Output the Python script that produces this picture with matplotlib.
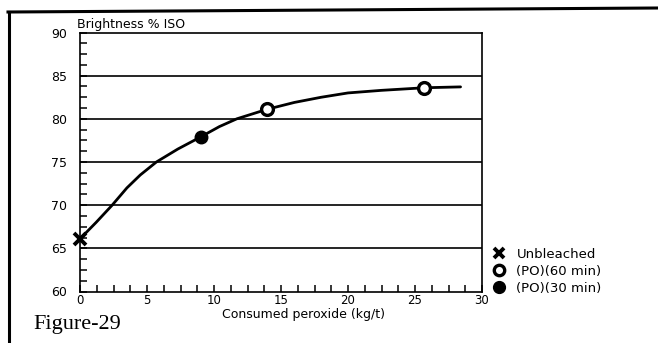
import matplotlib
matplotlib.use("Agg")
import matplotlib.pyplot as plt
from matplotlib.lines import Line2D
import numpy as np

# ---- data ----
curve_x = [0, 1.2, 2.4, 3.5, 4.5, 5.7, 7.3, 9.0, 10.4, 11.7, 13.95, 16.0, 18.0, 20.0, 22.5, 25.7, 28.4]
curve_y = [66.1, 68.0, 70.0, 72.0, 73.5, 75.0, 76.5, 77.9, 79.1, 80.0, 81.1, 81.9, 82.5, 83.0, 83.3, 83.6, 83.7]

unbleached_x = [0]
unbleached_y = [66.1]
po60_x = [13.95, 25.7]
po60_y = [81.1, 83.6]
po30_x = [9.0]
po30_y = [77.9]

x_ticks = [0, 5, 10, 15, 20, 25, 30]
y_ticks = [60, 65, 70, 75, 80, 85, 90]
legend_labels = ["Unbleached", "(PO)(60 min)", "(PO)(30 min)"]

W, H = 658, 343
fig = plt.figure(figsize=(W / 100, H / 100), dpi=100)
fig.patch.set_facecolor("white")

ax = fig.add_axes([80 / W, 1 - 291.5 / H, (482 - 80) / W, (291.5 - 32.5) / H])
ax.set_xlim(0, 30)
ax.set_ylim(60, 90)

for v in y_ticks[1:-1]:
    ax.axhline(v, color="black", lw=1.2, zorder=1)

ax.plot(curve_x, curve_y, color="black", lw=2.0, zorder=2, solid_capstyle="round")
ax.plot(unbleached_x, unbleached_y, linestyle="none", marker="x", ms=8, mew=2.8,
        color="black", zorder=3, clip_on=False)
ax.plot(po60_x, po60_y, linestyle="none", marker="o", ms=8.5, mew=2.4,
        mfc="white", mec="black", zorder=3)
ax.plot(po30_x, po30_y, linestyle="none", marker="o", ms=9, color="black", zorder=3)

ax.set_xticks(x_ticks)
ax.set_yticks(y_ticks)
ax.set_xticks(np.arange(0, 30.01, 1.25), minor=True)
ax.set_yticks(np.arange(60, 90.01, 1.25), minor=True)
ax.tick_params(which="both", direction="in", color="black", width=1.1, length=5)
ax.tick_params(axis="y", which="major", pad=9, labelsize=9)
ax.tick_params(axis="x", which="major", pad=1.5, labelsize=8.5)
ax.tick_params(axis="x", which="both", top=False)
ax.tick_params(axis="y", which="both", right=False)
for s in ax.spines.values():
    s.set_color("black")
    s.set_linewidth(1.2)

fig.text(77 / W, 1 - 24.5 / H, "Brightness % ISO", fontsize=9, ha="left", va="center")
fig.text(303 / W, 1 - 314.5 / H, "Consumed peroxide (kg/t)", fontsize=9, ha="center", va="center")
fig.text(33 / W, 1 - 324 / H, "Figure-29", fontsize=16, family="Liberation Serif",
         ha="left", va="center")

handles = [
    Line2D([], [], linestyle="none", marker="x", ms=7, mew=2.8, color="black"),
    Line2D([], [], linestyle="none", marker="o", ms=7.5, mew=2.4, mfc="white", mec="black"),
    Line2D([], [], linestyle="none", marker="o", ms=8.5, color="black"),
]
fig.legend(handles, legend_labels, loc="upper left", bbox_to_anchor=(494 / W, 1 - 248 / H),
           frameon=False, fontsize=9.5, handlelength=0.8, handletextpad=0.9,
           labelspacing=0.3, borderpad=0, borderaxespad=0)

# outer frame of the scanned figure
fig.add_artist(Line2D([8 / W, 1.0], [1 - 12 / H, 1 - 8 / H], transform=fig.transFigure,
                      color="black", lw=2.2))
fig.add_artist(Line2D([9 / W, 9 / W], [1 - 12 / H, 0], transform=fig.transFigure,
                      color="black", lw=2.2))

fig.savefig("out.png", dpi=100, facecolor="white")
